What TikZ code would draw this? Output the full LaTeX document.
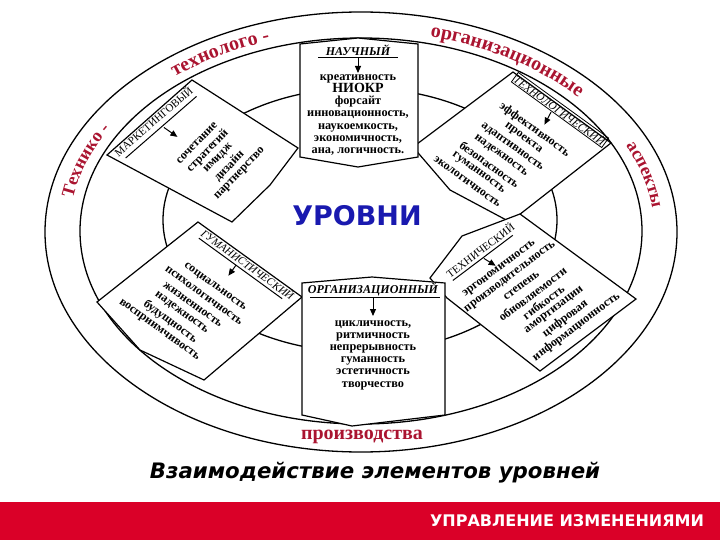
\documentclass[tikz,border=0pt]{standalone}
\usepackage{fontspec}
\setmainfont{Liberation Serif}
\newfontfamily\dejavu{DejaVu Sans}
\usetikzlibrary{arrows.meta,decorations.text}
\definecolor{ringred}{RGB}{170,20,48}
\definecolor{lvlblue}{RGB}{25,25,175}
\definecolor{barred}{RGB}{218,0,40}
\newcommand{\ringfont}{\fontsize{20}{20}\selectfont\bfseries}
\newcommand{\ringfontsm}{\fontsize{18}{18}\selectfont\bfseries}
\tikzset{
  ring/.style={line width=1.3pt},
  boxshape/.style={line width=1.2pt, fill=white, line join=miter},
  boxtext/.style={font=\fontsize{12.3}{12.2}\selectfont\bfseries, align=center, inner sep=0pt},
  rotline/.style={font=\fontsize{12}{12}\selectfont\bfseries, inner sep=0pt},
  titletext/.style={font=\fontsize{12}{12}\selectfont\bfseries\itshape, inner sep=0pt},
  titleplain/.style={font=\fontsize{11}{12}\selectfont, inner sep=0pt},
  titleital/.style={font=\fontsize{11}{12}\selectfont\itshape, inner sep=0pt},
  uline/.style={line width=1pt},
  downarrow/.style={line width=1pt, -{Triangle[length=7pt,width=6pt]}},
  ringtext/.style={decorate, decoration={text along path, text align=center, text color=ringred, text={#1}}},
}
\begin{document}
\begin{tikzpicture}[x=1pt,y=1pt]
\useasboundingbox (0,0) rectangle (720,-540);
% ellipses
\draw[ring] (361,-232) ellipse[x radius=316, y radius=220];
\draw[ring] (361,-231) ellipse[x radius=281, y radius=193];
\draw[ring] (360,-220) ellipse[x radius=197, y radius=132];
% ring texts
\path[ringtext={|\ringfontsm|Технико -}] ([shift={(361,-231)}]185:292 and 200) arc[start angle=185, end angle=137, x radius=292, y radius=200];
\path[ringtext={|\ringfont|технолого -}] ([shift={(361,-231)}]145:292 and 200) arc[start angle=145, end angle=95, x radius=292, y radius=200];
\path[ringtext={|\ringfont|организационные}] ([shift={(361,-231)}]92:292 and 200) arc[start angle=92, end angle=22, x radius=292, y radius=200];
\path[ringtext={|\ringfontsm|аспекты}] ([shift={(361,-231)}]38:293 and 200) arc[start angle=38, end angle=-8, x radius=293, y radius=200];
\node[font=\ringfont, text=ringred, inner sep=0pt] (prod) at (362,-437) {производства};
% top-right box (C)
\draw[boxshape] (513,-72) -- (611,-143) -- (510,-222) -- (450,-190) -- (413,-147) -- cycle;
\begin{scope}[shift={(560,-110)}, rotate=-36, transform shape]
  \node[titleital, draw, line width=0.8pt, inner sep=1pt] (c-title) at (0,0) {ТЕХНОЛОГИЧЕСКИЙ};
  \draw[downarrow] (-6,-7) -- (-4,-21);
  \foreach \t [count=\i from 0] in {эффективность,проекта,адаптивность,надежность,безопасность,гуманность,экологичность}
    \node[rotline] (c-l\i) at ({-9-4*\i},{-31-13.6*\i}) {\t};
\end{scope}
% top-left box (B)
\draw[boxshape] (107,-155) -- (192,-80) -- (298,-148) -- (270,-185) -- (232,-222) -- cycle;
\begin{scope}[shift={(153,-121)}, rotate=41, transform shape]
  \node[titleplain] (b-title) at (0,0) {МАРКЕТИНГОВЫЙ};
  \draw[uline] (-45,-10) -- (49,-10);
  \draw[downarrow] (4,-12) -- (8,-28);
\end{scope}
\begin{scope}[shift={(197,-143)}, rotate=46, transform shape]
  \foreach \t [count=\i from 0] in {сочетание,стратегий,имидж,дизайн,партнерство}
    \node[rotline] (b-l\i) at ({1.9*\i},{-13.1*\i}) {\t};
\end{scope}
% top centre box (A)
\draw[boxshape] (300,-44) -- (358,-38) -- (418,-44) -- (418,-157) -- (358,-167) -- (300,-157) -- cycle;
\node[titletext] (a-title) at (358,-50) {НАУЧНЫЙ};
\draw[uline] (318,-58) -- (398,-58);
\draw[downarrow] (358,-58) -- (358,-73);
\node[boxtext] (a-body) at (358,-115) {креативность\\{\fontsize{14}{12.2}\selectfont НИОКР}\\форсайт\\инновационность,\\наукоемкость,\\экономичность,\\ана, логичность.};
% bottom-right box (E)
\draw[boxshape] (430,-278) -- (462,-236) -- (520,-214) -- (636,-299) -- (540,-371) -- (447,-298) -- cycle;
\begin{scope}[shift={(480,-250)}, rotate=37, transform shape]
  \node[titleplain] (e-title) at (0,0) {ТЕХНИЧЕСКИЙ};
  \draw[uline] (-40,-8) -- (35,-8);
  \draw[downarrow] (-2,-9) -- (3,-22);
  \foreach \t [count=\i from 0] in {эргономичность,производительность,степень,обновляемости,гибкость,амортизации,цифровая,информационность}
    \node[rotline] (e-l\i) at ({4+3.8*\i},{-27-13.2*\i}) {\t};
\end{scope}
% bottom-left box (D)
\draw[boxshape] (198,-222) -- (302,-297) -- (204,-380) -- (140,-350) -- (97,-302) -- cycle;
\begin{scope}[shift={(248,-264)}, rotate=-36, transform shape]
  \node[titleital] (d-title) at (0,0) {ГУМАНИСТИЧЕСКИЙ};
  \draw[uline] (-55,-8) -- (48,-8);
  \draw[downarrow] (-9,-8) -- (-9,-21);
  \foreach \t [count=\i from 0] in {социальность,психологичность,жизненность,надежность,будущность,восприимчивость}
    \node[rotline] (d-l\i) at ({-13-4*\i},{-38-13.6*\i}) {\t};
\end{scope}
% bottom centre box (F)
\draw[boxshape] (302,-283) -- (372,-277) -- (445,-283) -- (445,-415) -- (352,-426) -- (302,-415) -- cycle;
\node[titletext] (f-title) at (373,-289) {ОРГАНИЗАЦИОННЫЙ};
\draw[uline] (310,-297) -- (440,-297);
\draw[downarrow] (373,-297) -- (373,-316);
\node[boxtext] (f-body) at (373,-355) {цикличность,\\ритмичность\\непрерывность\\гуманность\\эстетичность\\творчество};
% centre
\node[font=\dejavu\bfseries\fontsize{27}{27}\selectfont, text=lvlblue, inner sep=0pt] (levels) at (357,-216) {УРОВНИ};
% caption
\node[font=\dejavu\bfseries\itshape\fontsize{21.3}{21.3}\selectfont, inner sep=0pt] (caption) at (375,-473) {Взаимодействие элементов уровней};
% bottom bar
\fill[barred] (0,-502) rectangle (720,-540);
\node[font=\dejavu\bfseries\fontsize{16}{16}\selectfont, text=white, inner sep=0pt] (bar) at (567,-521) {УПРАВЛЕНИЕ ИЗМЕНЕНИЯМИ};
\end{tikzpicture}
\end{document}
